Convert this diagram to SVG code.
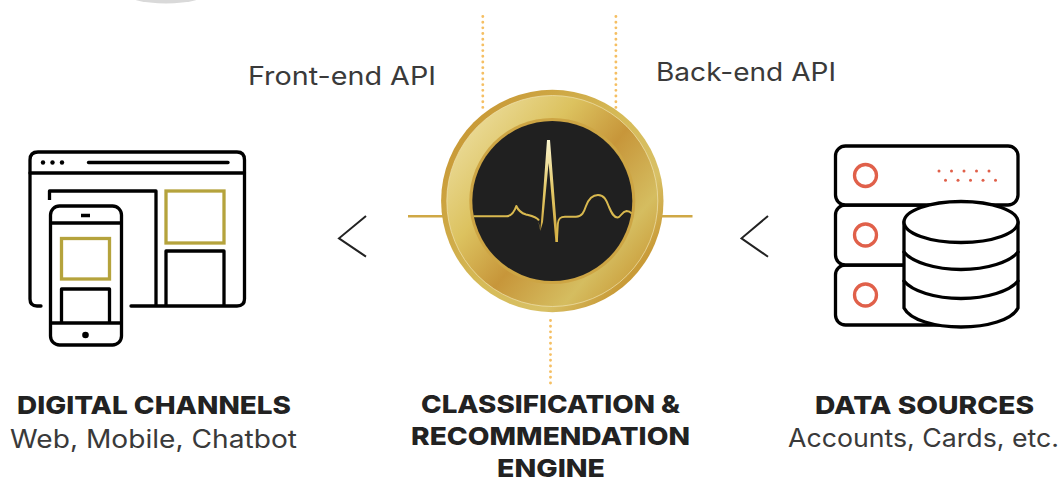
<svg xmlns="http://www.w3.org/2000/svg" width="1064" height="480" viewBox="0 0 1064 480">
<style>
.k{fill:none;stroke:#000;stroke-width:3.3;stroke-linejoin:round;stroke-linecap:round}
.kf{fill:#fff;stroke:#000;stroke-width:3.3;stroke-linejoin:round}
.g{fill:none;stroke:#b5a33c;stroke-width:3.3}
.r{fill:none;stroke:#e0604a;stroke-width:3.3}
.rd{fill:#e0604a}
.dot{fill:none;stroke:#f5bf63;stroke-width:2.9;stroke-linecap:round;stroke-dasharray:.01 5.67}
.chev{fill:none;stroke:#222;stroke-width:2}
.lead{stroke:#cfa845;stroke-width:2.4;fill:none}
.t{font-family:Inter,"Open Sans","Liberation Sans",sans-serif;font-size:25px;fill:#3a3a3a}
.b{font-family:Inter,"Open Sans","Liberation Sans",sans-serif;font-size:25px;font-weight:800;fill:#222}
</style>
<defs>
<linearGradient id="ring" gradientUnits="userSpaceOnUse" x1="470" y1="132" x2="635" y2="270">
<stop offset="0" stop-color="#e9d891"/><stop offset=".28" stop-color="#dcc25f"/><stop offset=".55" stop-color="#c7963a"/><stop offset=".85" stop-color="#d5bd60"/><stop offset="1" stop-color="#cda544"/>
</linearGradient>
<linearGradient id="edge" gradientUnits="userSpaceOnUse" x1="470" y1="132" x2="635" y2="270">
<stop offset="0" stop-color="#c99b38"/><stop offset=".5" stop-color="#d6bb58"/><stop offset=".8" stop-color="#d8c065"/><stop offset="1" stop-color="#c99b38"/>
</linearGradient>
<linearGradient id="spike" gradientUnits="userSpaceOnUse" x1="0" y1="140" x2="0" y2="242">
<stop offset="0" stop-color="#fbf5d0"/><stop offset=".5" stop-color="#e2c765"/><stop offset="1" stop-color="#d0a63c"/>
</linearGradient>
</defs>
<rect width="1064" height="480" fill="#fff"/>
<ellipse id="top-arc" cx="166" cy="-8" rx="42" ry="11.500" fill="#d9d9d9"/>

<g id="connectors">
<path class="dot" d="M482.800 16.500V108"/>
<path class="dot" d="M615.900 16.500V108"/>
<path class="dot" d="M550.500 320.500V386"/>
<path class="lead" d="M408 216.300H444"/>
<path class="lead" d="M660 216.300H692.500"/>
<path class="chev" d="M366 216L339 238.300L366 256.700"/>
<path class="chev" d="M768 216L741.500 238.300L768 256.700"/>
</g>

<g id="digital-channels">
<path class="k" d="M41 306H37Q30 306 30 299V160Q30 152 38 152H237Q244.500 152 244.500 160V299Q244.500 306 237 306H131"/>
<path class="k" d="M30 173H244.500"/>
<circle cx="43" cy="162.500" r="2.200"/><circle cx="52.500" cy="162.500" r="2.200"/><circle cx="62" cy="162.500" r="2.200"/>
<path class="k" d="M88.500 162.500H228"/>
<path class="k" style="stroke-linecap:butt" d="M49.500 200V191H156V305"/>
<rect class="g" x="166" y="191" width="58" height="52"/>
<path class="k" style="stroke-linecap:butt" d="M166 305V251H224V305"/>
<rect class="kf" x="50.500" y="206" width="71" height="139" rx="9"/>
<path class="k" style="stroke-linecap:butt" d="M50.500 223H121.500M50.500 323H121.500M81 215.500H90"/>
<rect class="g" x="61.500" y="238.500" width="48" height="40.500"/>
<path class="k" style="stroke-linecap:butt" d="M61.500 323V289H109.500V323"/>
<circle cx="85.500" cy="335" r="3.300"/>
<text class="b" x="17" y="414" textLength="274" lengthAdjust="spacingAndGlyphs">DIGITAL CHANNELS</text>
<text class="t" x="10" y="448" textLength="287" lengthAdjust="spacingAndGlyphs">Web, Mobile, Chatbot</text>
</g>

<g id="engine">
<circle cx="552.300" cy="201" r="111.200" fill="url(#edge)"/>
<circle cx="552.300" cy="201" r="105.500" fill="url(#ring)" stroke="#efe3b0" stroke-width=".7"/>
<circle cx="552.300" cy="201" r="83" fill="#cda544"/>
<circle cx="552.300" cy="201" r="80" fill="#202020"/>
<path fill="none" stroke="#d9b94f" stroke-width="2" stroke-linejoin="round" d="M473.500 216.300H506C511 216.300 514 213 516.300 206C518 210 521 213 526 214.500C532 216 537 217 539 220.500"/>
<path fill="url(#spike)" d="M538.200 221L540.300 231L547 140H550L558 242H555.400L548.600 163L543 222L540.300 231L539.600 226Z"/>
<path fill="none" stroke="#d9b94f" stroke-width="2" d="M556.800 242L557.800 224C558.300 218 561 216.700 565 216.700H576C582 216.700 584 212 586 206C589 198 593 195 598 195C604 195 606.500 200 609 207C612 214 614 217.500 617.500 217.500C621 217.500 621.500 211.500 626.500 211C629 211 630.500 212 631.700 213.500"/>
<text class="b" x="421" y="413" textLength="259" lengthAdjust="spacingAndGlyphs">CLASSIFICATION &amp;</text>
<text class="b" x="411" y="445" textLength="279" lengthAdjust="spacingAndGlyphs">RECOMMENDATION</text>
<text class="b" x="497" y="477" textLength="108" lengthAdjust="spacingAndGlyphs">ENGINE</text>
</g>

<g id="data-sources">
<rect class="kf" x="835.500" y="265" width="120" height="60" rx="10"/>
<rect class="kf" x="835.500" y="205" width="150" height="60" rx="10"/>
<rect class="kf" x="835.500" y="146" width="182.500" height="59" rx="10"/>
<circle class="r" cx="865.500" cy="175.500" r="11"/>
<circle class="r" cx="865.500" cy="235" r="11"/>
<circle class="r" cx="865.500" cy="295" r="11"/>
<g class="rd">
<circle cx="939" cy="171" r="1.500"/><circle cx="951.500" cy="171" r="1.500"/><circle cx="964" cy="171" r="1.500"/><circle cx="976.500" cy="171" r="1.500"/><circle cx="989" cy="171" r="1.500"/>
<circle cx="945.500" cy="180.300" r="1.500"/><circle cx="958" cy="180.300" r="1.500"/><circle cx="970.500" cy="180.300" r="1.500"/><circle cx="983" cy="180.300" r="1.500"/><circle cx="995.500" cy="180.300" r="1.500"/>
</g>
<path class="kf" d="M904 222V308C910 320 935 327 961 327C987 327 1012 320 1018 308V222Z"/>
<ellipse class="kf" cx="961" cy="222" rx="57" ry="20.500"/>
<path class="k" d="M904 252C912 262 935 269.500 961 269.500C987 269.500 1010 262 1018 252"/>
<path class="k" d="M904 281C912 291 935 298.500 961 298.500C987 298.500 1010 291 1018 281"/>
<text class="b" x="815" y="414" textLength="219" lengthAdjust="spacingAndGlyphs">DATA SOURCES</text>
<text class="t" x="788" y="447" textLength="271" lengthAdjust="spacingAndGlyphs">Accounts, Cards, etc.</text>
</g>

<text id="front-end-api" class="t" x="248" y="85" textLength="188" lengthAdjust="spacingAndGlyphs">Front-end API</text>
<text id="back-end-api" class="t" x="656" y="81" textLength="180" lengthAdjust="spacingAndGlyphs">Back-end API</text>
</svg>
